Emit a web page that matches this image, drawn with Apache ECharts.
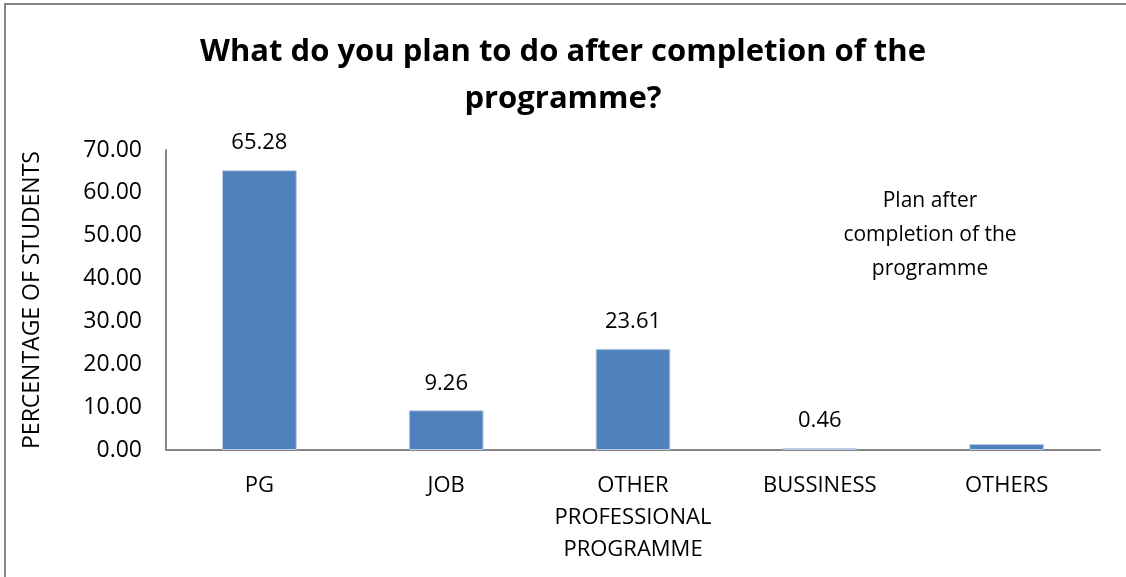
<!DOCTYPE html>
<html><head><meta charset="utf-8">
<script src="https://cdn.jsdelivr.net/npm/echarts@6/dist/echarts.min.js"></script>
<style>html,body{margin:0;padding:0;background:#fff}#c{width:1126px;height:577px}</style>
</head><body><div id="c"></div>
<script>
const categories = ['PG', 'JOB', 'OTHER\nPROFESSIONAL\nPROGRAMME', 'BUSSINESS', 'OTHERS'];
const values = [65.28, 9.26, 23.61, 0.46, 1.39];
const showLabel = [true, true, true, true, false];
const yTicks = [0, 10, 20, 30, 40, 50, 60, 70];
const seriesName = 'Plan after\ncompletion of the\nprogramme';
const font = '"Open Sans", "Liberation Sans", sans-serif';

const chart = echarts.init(document.getElementById('c'));
chart.setOption({
  animation: false,
  backgroundColor: '#fff',
  title: {
    text: 'What do you plan to do after completion of the\nprogramme?',
    left: 'center', top: 24,
    textStyle: { fontFamily: font, fontSize: 31, fontWeight: 'bold', color: '#000', lineHeight: 47 }
  },
  legend: { show: false, data: [seriesName] },
  graphic: [
    { type: 'rect', shape: { x: 5, y: 4, width: 1140, height: 600 }, style: { fill: 'none', stroke: '#868686', lineWidth: 2 }, silent: true },
    { type: 'text', x: 930, y: 184, style: { text: seriesName, textAlign: 'center', font: '21px ' + font, fill: '#000', lineHeight: 34 } }
  ],
  grid: { left: 166, right: 26, top: 150, bottom: 127 },
  xAxis: {
    type: 'category', data: categories,
    axisLine: { lineStyle: { color: '#868686', width: 2 } },
    axisTick: { show: false },
    axisLabel: { interval: 0, fontFamily: font, fontSize: 22, color: '#000', margin: 20, lineHeight: 32 }
  },
  yAxis: {
    type: 'value', min: yTicks[0], max: yTicks[yTicks.length - 1], interval: 10,
    name: 'PERCENTAGE OF STUDENTS', nameLocation: 'middle', nameGap: 122, nameRotate: 90,
    nameTextStyle: { fontFamily: font, fontSize: 23, color: '#000' },
    axisLine: { show: true, lineStyle: { color: '#868686', width: 2 } },
    axisTick: { show: false },
    splitLine: { show: false },
    axisLabel: { fontFamily: font, fontSize: 23, color: '#000', margin: 24, formatter: v => v.toFixed(2) }
  },
  series: [{
    name: seriesName, type: 'bar', barWidth: '40%',
    data: values.map((v, i) => ({ value: v, label: { show: showLabel[i] } })),
    itemStyle: { color: '#4f81bd', borderColor: '#b9cde5', borderWidth: 1 },
    label: { position: 'top', distance: 16, fontFamily: font, fontSize: 22, color: '#000', formatter: p => p.value.toFixed(2) }
  }]
});
</script></body></html>
